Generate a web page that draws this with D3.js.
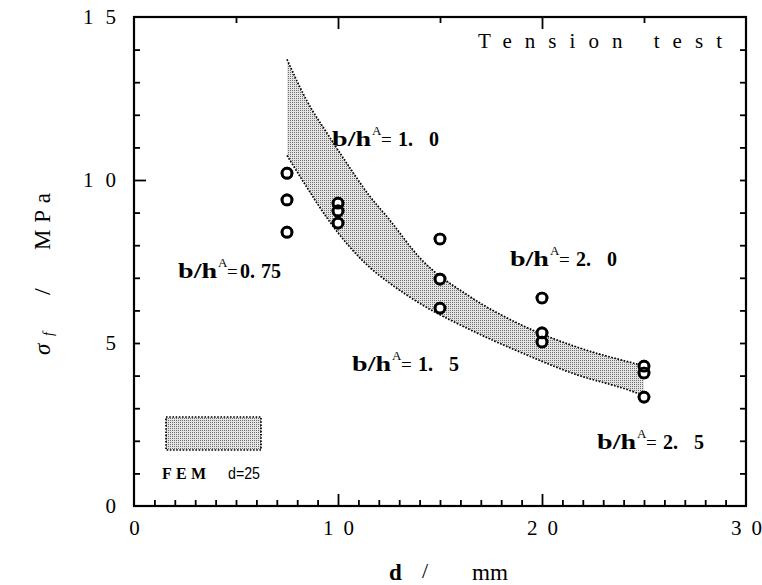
<!DOCTYPE html>
<html>
<head>
<meta charset="utf-8">
<script src="https://cdn.jsdelivr.net/npm/d3@7"></script>
<style>
  html, body { margin: 0; padding: 0; background: #fff; }
  svg { display: block; }
</style>
</head>
<body>
<svg id="chart" width="762" height="585"></svg>
<script>
// Measured specimens: diameter d (mm) and tensile strength σf (MPa)
const specimenD = [7.5, 7.5, 7.5, 10, 10, 10, 15, 15, 15, 20, 20, 20, 25, 25, 25];
const specimenSigma = [10.21, 9.39, 8.40, 9.29, 9.05, 8.68, 8.19, 6.96, 6.07, 6.38, 5.31, 5.03, 4.29, 4.08, 3.34];

// FEM prediction band: upper and lower bounds along d
const femD = [7.5, 8.5, 9.5, 10.5, 11.5, 12.5, 14, 16.5, 19, 21.5, 24.5, 25];
const femUpper = [13.7, 12.4, 11.4, 10.45, 9.55, 8.8, 7.62, 6.41, 5.55, 4.92, 4.38, 4.3];
const femLower = [10.75, 9.75, 8.8, 8.0, 7.35, 6.85, 6.22, 5.4, 4.7, 4.07, 3.5, 3.38];

// Aspect-ratio annotations b/h^A, anchored in data coordinates
const ratioValues = ["0.", "1.", "1.", "2.", "2."];
const ratioDigits = ["75", "0", "5", "0", "5"];
const ratioAtD = [2.16, 9.71, 10.69, 18.43, 22.70];
const ratioAtSigma = [6.99, 11.04, 4.14, 7.36, 1.75];

const xTickLabels = [0, 10, 20, 30];
const yTickLabels = [0, 5, 10, 15];

const svg = d3.select("#chart");
const x = d3.scaleLinear().domain([0, 30]).range([134, 746]);
const y = d3.scaleLinear().domain([0, 15]).range([506, 17]);

const serif = "'Liberation Serif', 'DejaVu Serif', serif";

// Stipple fill for the FEM band
const defs = svg.append("defs");
const pat = defs.append("pattern").attr("id", "stipple")
  .attr("width", 2).attr("height", 2).attr("patternUnits", "userSpaceOnUse");
pat.append("rect").attr("width", 2).attr("height", 2).attr("fill", "#e4e4e4");
pat.append("rect").attr("width", 1).attr("height", 1).attr("fill", "#6e6e6e");

// FEM band
const idx = d3.range(femD.length);
svg.append("path")
  .attr("d", d3.area()
    .x(i => x(femD[i])).y0(i => y(femLower[i])).y1(i => y(femUpper[i]))
    .curve(d3.curveMonotoneX)(idx))
  .attr("fill", "url(#stipple)");
[femUpper, femLower].forEach(arr => {
  svg.append("path")
    .attr("d", d3.line().x(i => x(femD[i])).y(i => y(arr[i])).curve(d3.curveMonotoneX)(idx))
    .attr("fill", "none").attr("stroke", "#000")
    .attr("stroke-width", 1.7).attr("stroke-dasharray", "1.6 1.6");
});

// Tick marks (all pointing inward)
function tickSet(axis, values, size, tr) {
  svg.append("g").attr("transform", tr)
    .call(axis.tickValues(values).tickSize(size).tickFormat(""))
    .call(g => g.select(".domain").remove())
    .selectAll("line").attr("stroke", "#000").attr("stroke-width", 1.8);
}
const minorX = d3.range(1, 30).filter(v => v % 10 !== 0);
tickSet(d3.axisBottom(x), minorX, -6, `translate(0,${y(0)})`);
tickSet(d3.axisBottom(x), [10, 20], -12, `translate(0,${y(0)})`);
tickSet(d3.axisTop(x), [5, 15, 25], -6, `translate(0,${y(15)})`);
tickSet(d3.axisTop(x), [10, 20], -12, `translate(0,${y(15)})`);
tickSet(d3.axisLeft(y), d3.range(1, 15).filter(v => v !== 10), -6, `translate(${x(0)},0)`);
tickSet(d3.axisLeft(y), [10], -12, `translate(${x(0)},0)`);
tickSet(d3.axisRight(y), d3.range(1, 15), -6, `translate(${x(30)},0)`);

// Frame
svg.append("rect")
  .attr("x", x(0)).attr("y", y(15))
  .attr("width", x(30) - x(0)).attr("height", y(0) - y(15))
  .attr("fill", "none").attr("stroke", "#000").attr("stroke-width", 2.2);

// Tick labels, digits spread apart to a fixed width
function styleTickText(sel, width) {
  sel.attr("font-family", serif).attr("font-size", 21).attr("fill", "#000")
    .each(function (d) {
      if (String(d).length > 1) d3.select(this).attr("textLength", width).attr("lengthAdjust", "spacing");
    });
}
svg.append("g").attr("transform", `translate(0,${y(0)})`)
  .call(d3.axisBottom(x).tickValues(xTickLabels).tickSize(0).tickPadding(14).tickFormat(d => String(d)))
  .call(g => g.select(".domain").remove())
  .selectAll("text").call(styleTickText, 31);
svg.append("g").attr("transform", `translate(${x(0)},0)`)
  .call(d3.axisLeft(y).tickValues(yTickLabels).tickSize(0).tickPadding(18).tickFormat(d => String(d)))
  .call(g => g.select(".domain").remove())
  .selectAll("text").call(styleTickText, 33);

// Specimens: white-filled rings, outlines redrawn so overlaps stay visible
const pts = d3.range(specimenD.length);
svg.append("g").selectAll("circle").data(pts).join("circle")
  .attr("cx", i => x(specimenD[i])).attr("cy", i => y(specimenSigma[i])).attr("r", 5)
  .attr("fill", "#fff").attr("stroke", "#000").attr("stroke-width", 2.7);
svg.append("g").selectAll("circle").data(pts).join("circle")
  .attr("cx", i => x(specimenD[i])).attr("cy", i => y(specimenSigma[i])).attr("r", 5)
  .attr("fill", "none").attr("stroke", "#000").attr("stroke-width", 2.7);

// b/h^A annotations
ratioValues.forEach((v, i) => {
  const g = svg.append("g")
    .attr("transform", `translate(${x(ratioAtD[i])},${y(ratioAtSigma[i])})`)
    .attr("font-family", serif).attr("fill", "#000");
  g.append("text").attr("x", 0).attr("font-size", 21).attr("font-weight", "bold")
    .attr("textLength", 39).attr("lengthAdjust", "spacingAndGlyphs").text("b/h");
  g.append("text").attr("x", 40).attr("y", -11).attr("font-size", 13).text("A");
  g.append("text").attr("x", 49).attr("y", 0).attr("font-size", 19).text("=");
  const two = ratioDigits[i].length > 1;
  g.append("text").attr("x", two ? 62 : 66).attr("font-size", 20).attr("font-weight", "bold").text(v);
  g.append("text").attr("x", two ? 83 : 97).attr("font-size", 20).attr("font-weight", "bold")
    .text(ratioDigits[i]);
});

// Title inside the frame
svg.append("text").attr("x", 478).attr("y", 48)
  .attr("font-family", serif).attr("font-size", 21)
  .attr("textLength", 244).attr("lengthAdjust", "spacing").text("Tension test");

// Legend for the FEM band
svg.append("rect").attr("x", 166).attr("y", 417).attr("width", 95).attr("height", 33)
  .attr("fill", "url(#stipple)").attr("stroke", "#000")
  .attr("stroke-width", 1.7).attr("stroke-dasharray", "1.6 1.6");
svg.append("text").attr("x", 162).attr("y", 479)
  .attr("font-family", serif).attr("font-size", 16).attr("font-weight", "bold")
  .attr("textLength", 44).attr("lengthAdjust", "spacing").text("FEM");
svg.append("text").attr("x", 228).attr("y", 479)
  .attr("font-family", "'Liberation Sans', Arial, sans-serif").attr("font-size", 16)
  .attr("textLength", 32).attr("lengthAdjust", "spacingAndGlyphs").text("d=25");

// Axis titles
const xt = svg.append("g").attr("font-family", serif).attr("font-size", 23).attr("fill", "#000");
xt.append("text").attr("x", 389).attr("y", 580).attr("font-weight", "bold").text("d");
xt.append("text").attr("x", 422).attr("y", 578).attr("font-size", 22).text("/");
xt.append("text").attr("x", 472).attr("y", 580).attr("textLength", 36).attr("lengthAdjust", "spacingAndGlyphs").text("mm");

const yt = svg.append("g").attr("transform", "translate(50,355) rotate(-90)")
  .attr("font-family", serif).attr("font-size", 23).attr("fill", "#000");
yt.append("text").attr("x", 0).attr("font-style", "italic").text("σ");
yt.append("text").attr("x", 19).attr("y", 3).attr("font-size", 14).attr("font-style", "italic").text("f");
yt.append("text").attr("x", 60).attr("font-size", 24).text("/");
yt.append("text").attr("x", 105).attr("textLength", 57).attr("lengthAdjust", "spacing").text("MPa");
</script>
</body>
</html>
